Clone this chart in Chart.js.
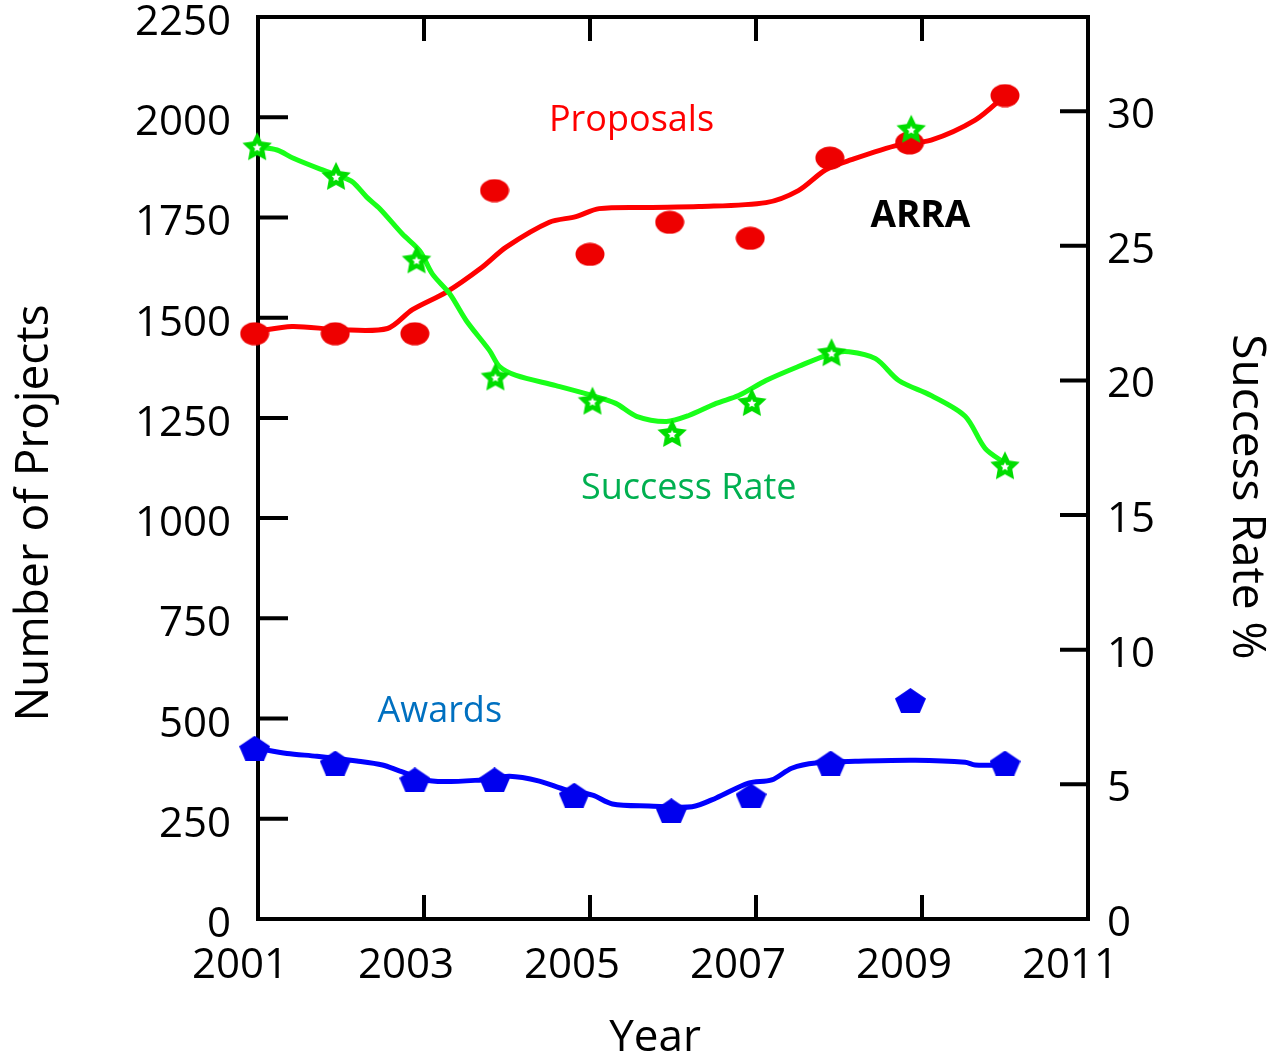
<!DOCTYPE html>
<html>
<head>
<meta charset="utf-8">
<script src="https://cdn.jsdelivr.net/npm/chart.js@4.4.1/dist/chart.umd.min.js"></script>
<style>
html,body{margin:0;padding:0;background:#fff;}
#wrap{width:1272px;height:1062px;position:relative;}
</style>
</head>
<body>
<div id="wrap"><canvas id="c" width="1272" height="1062"></canvas></div>
<script>
// ---- data ----
const xTickValues = [2001, 2003, 2005, 2007, 2009, 2011];
const leftTickValues = [0, 250, 500, 750, 1000, 1250, 1500, 1750, 2000, 2250];
const rightTickValues = [0, 5, 10, 15, 20, 25, 30];

const proposalYears = [2000.96, 2001.93, 2002.89, 2003.85, 2005.0, 2005.96, 2006.93, 2007.89, 2008.85, 2010.0];
const proposals     = [1460, 1460, 1460, 1817, 1658, 1738, 1698, 1898, 1936, 2054];

const proposalTrendYears = [2000.96, 2001.41, 2001.99, 2002.56, 2002.86, 2003.27, 2003.70, 2003.99, 2004.51, 2004.83, 2005.11, 2005.71, 2006.31, 2007.12, 2007.51, 2007.84, 2008.15, 2008.72, 2009.11, 2009.64, 2010.0];
const proposalTrend      = [1465, 1478, 1470, 1473, 1520, 1564, 1626, 1676, 1738, 1752, 1772, 1775, 1777, 1787, 1817, 1869, 1894, 1931, 1943, 1993, 2054];

const successYears = [2000.99, 2001.94, 2002.91, 2003.86, 2005.03, 2005.99, 2006.95, 2007.91, 2008.87, 2010.0];
const successRate  = [28.7, 27.6, 24.5, 20.15, 19.25, 18.05, 19.2, 21.05, 29.35, 16.85];

const successTrendYears = [2000.99, 2001.23, 2001.42, 2001.75, 2001.99, 2002.14, 2002.31, 2002.47, 2002.74, 2002.95, 2003.10, 2003.31, 2003.51, 2003.79, 2003.91, 2004.11, 2004.59, 2005.03, 2005.31, 2005.56, 2005.92, 2006.19, 2006.52, 2006.79, 2007.12, 2007.51, 2007.91, 2008.12, 2008.44, 2008.72, 2009.11, 2009.52, 2009.76, 2010.0];
const successTrend      = [28.67, 28.56, 28.26, 27.85, 27.59, 27.37, 26.81, 26.37, 25.44, 24.81, 23.96, 23.22, 22.22, 21.11, 20.52, 20.19, 19.81, 19.44, 19.15, 18.67, 18.48, 18.70, 19.15, 19.44, 20.0, 20.52, 21.0, 21.07, 20.81, 20.0, 19.44, 18.67, 17.48, 16.93];

const awardYears = [2000.96, 2001.93, 2002.89, 2003.85, 2004.81, 2005.98, 2006.94, 2007.9, 2008.86, 2010.0];
const awards     = [426, 389, 347, 347, 309, 270, 307, 389, 545, 389];

const awardTrendYears = [2000.99, 2001.35, 2001.71, 2002.19, 2002.50, 2002.71, 2003.10, 2003.70, 2004.03, 2004.39, 2004.71, 2005.03, 2005.27, 2005.71, 2006.23, 2006.52, 2006.91, 2007.19, 2007.43, 2007.72, 2008.32, 2008.92, 2009.52, 2009.64, 2009.92, 2010.0];
const awardTrend      = [426, 413, 406, 394, 384, 369, 344, 347, 356, 344, 322, 309, 287, 282, 280, 302, 339, 347, 376, 389, 394, 396, 391, 384, 384, 386];

const pts = (xs, ys) => xs.map((x, i) => ({x: x, y: ys[i]}));

// ---- marker images ----
function ellipseImg(w, h, color) {
  const c = document.createElement('canvas'); c.width = w; c.height = h;
  const g = c.getContext('2d'); g.fillStyle = color;
  g.beginPath(); g.ellipse(w/2, h/2, w/2 - 0.5, h/2 - 0.5, 0, 0, Math.PI*2); g.fill();
  return c;
}
function starPath(g, cx, cy, ro, ri) {
  g.beginPath();
  for (let i = 0; i < 10; i++) {
    const r = i % 2 === 0 ? ro : ri;
    const a = -Math.PI/2 + i * Math.PI/5;
    const px = cx + r*Math.cos(a), py = cy + r*Math.sin(a);
    if (i === 0) g.moveTo(px, py); else g.lineTo(px, py);
  }
  g.closePath();
}
function starImg(size, color) {
  const c = document.createElement('canvas'); c.width = size; c.height = size;
  const g = c.getContext('2d');
  g.fillStyle = color; starPath(g, size/2, size/2 + 1.5, size/2 - 0.5, size/4.2); g.fill();
  g.fillStyle = '#ffffff'; starPath(g, size/2, size/2 + 1.5, size/7, size/14); g.fill();
  return c;
}
function pentImg(w, h, color) {
  const c = document.createElement('canvas'); c.width = w; c.height = h;
  const g = c.getContext('2d'); g.fillStyle = color;
  g.beginPath();
  g.moveTo(w/2, 0); g.lineTo(w, h*0.42); g.lineTo(w*0.8, h); g.lineTo(w*0.2, h); g.lineTo(0, h*0.42);
  g.closePath(); g.fill();
  return c;
}
const redDot = ellipseImg(30, 24, '#EE0000');
const greenStar = starImg(32, '#00DD00');
const bluePent = pentImg(31, 25, '#0000EE');

// ---- frame & inward tick marks ----
const framePlugin = {
  id: 'frame',
  beforeDatasetsDraw(chart) {
    const {ctx, chartArea: a, scales} = chart;
    ctx.save();
    ctx.strokeStyle = '#000'; ctx.lineWidth = 4; ctx.lineCap = 'square';
    ctx.strokeRect(a.left, a.top, a.right - a.left, a.bottom - a.top);
    ctx.lineCap = 'butt';
    ctx.beginPath();
    leftTickValues.forEach(v => {
      if (v <= 0 || v >= 2250) return;
      const y = scales.y.getPixelForValue(v);
      ctx.moveTo(a.left, y); ctx.lineTo(a.left + 30, y);
    });
    rightTickValues.forEach(v => {
      if (v <= 0) return;
      const y = scales.y2.getPixelForValue(v);
      ctx.moveTo(a.right, y); ctx.lineTo(a.right - 28, y);
    });
    xTickValues.forEach(v => {
      if (v <= 2001 || v >= 2011) return;
      const x = scales.x.getPixelForValue(v);
      ctx.moveTo(x, a.bottom); ctx.lineTo(x, a.bottom - 24);
      ctx.moveTo(x, a.top); ctx.lineTo(x, a.top + 24);
    });
    ctx.stroke();
    ctx.restore();
  },
  afterDraw(chart) {
    const {ctx, scales} = chart;
    ctx.save();
    ctx.textAlign = 'center'; ctx.textBaseline = 'middle';
    const txt = (s, x, y, font, color, rot) => {
      ctx.save(); ctx.translate(x, y); if (rot) ctx.rotate(rot);
      ctx.font = font; ctx.fillStyle = color; ctx.fillText(s, 0, 0); ctx.restore();
    };
    // axis titles
    txt('Number of Projects', 35, 513, '46px "Open Sans"', '#000', -Math.PI/2);
    txt('Success Rate %', 1246, 497, '46px "Open Sans"', '#000', Math.PI/2);
    txt('Year', 655, 1038, '44px "Open Sans"', '#000', 0);
    // series annotations, placed with the scales
    const X = v => scales.x.getPixelForValue(v), Y = v => scales.y.getPixelForValue(v);
    txt('Proposals', X(2005.5), Y(1990), '36px "Open Sans"', '#FF0000', 0);
    txt('ARRA', X(2008.98), Y(1752), 'bold 37px "Open Sans"', '#000', 0);
    txt('Success Rate', X(2006.19), Y(1072), '36px "Open Sans"', '#00B050', 0);
    txt('Awards', X(2003.19), Y(516), '36px "Open Sans"', '#0070C0', 0);
    ctx.restore();
  }
};

const tickFont = {family: 'Open Sans', size: 42};
const setTicks = vals => scale => { scale.ticks = vals.map(v => ({value: v})); };

new Chart(document.getElementById('c'), {
  type: 'scatter',
  data: {
    datasets: [
      {label: 'Success Rate', data: pts(successYears, successRate), yAxisID: 'y2', showLine: false,
       pointStyle: greenStar, pointRadius: 16, clip: false},
      {label: 'Proposals', data: pts(proposalYears, proposals), yAxisID: 'y', showLine: false,
       pointStyle: redDot, pointRadius: 15, clip: false},
      {label: 'Awards', data: pts(awardYears, awards), yAxisID: 'y', showLine: false,
       pointStyle: bluePent, pointRadius: 15, clip: false},
      {label: 'Success trend', data: pts(successTrendYears, successTrend), yAxisID: 'y2', showLine: true,
       borderColor: '#19FF19', borderWidth: 5, pointRadius: 0, tension: 0.3, clip: false},
      {label: 'Proposals trend', data: pts(proposalTrendYears, proposalTrend), yAxisID: 'y', showLine: true,
       borderColor: '#FF0000', borderWidth: 5, pointRadius: 0, tension: 0.3, clip: false},
      {label: 'Awards trend', data: pts(awardTrendYears, awardTrend), yAxisID: 'y', showLine: true,
       borderColor: '#0000FF', borderWidth: 5, pointRadius: 0, tension: 0.3, clip: false}
    ]
  },
  options: {
    responsive: false,
    animation: false,
    layout: {padding: {top: 13, left: 0, right: 0, bottom: 0}},
    plugins: {legend: {display: false}, tooltip: {enabled: false}},
    scales: {
      x: {
        type: 'linear', position: 'bottom', min: 2001, max: 2011,
        afterBuildTicks: setTicks(xTickValues),
        afterFit: s => { s.height = 143; s.paddingLeft = 0; s.paddingRight = 0; },
        grid: {display: false, drawTicks: false},
        border: {display: false},
        ticks: {font: tickFont, color: '#000', padding: 22, labelOffset: -18, maxRotation: 0, autoSkip: false,
                callback: v => String(v)}
      },
      y: {
        type: 'linear', position: 'left', min: 0, max: 2250,
        afterBuildTicks: setTicks(leftTickValues),
        afterFit: s => { s.width = 258; s.paddingTop = 0; s.paddingBottom = 0; },
        grid: {display: false, drawTicks: false},
        border: {display: false},
        ticks: {font: tickFont, color: '#000', padding: 27, labelOffset: 6, autoSkip: false, callback: v => String(v)}
      },
      y2: {
        type: 'linear', position: 'right', min: 0, max: 33.5,
        afterBuildTicks: setTicks(rightTickValues),
        afterFit: s => { s.width = 184; s.paddingTop = 0; s.paddingBottom = 0; },
        grid: {display: false, drawTicks: false},
        border: {display: false},
        ticks: {font: tickFont, color: '#000', padding: 19, labelOffset: 5, autoSkip: false, callback: v => String(v)}
      }
    }
  },
  plugins: [framePlugin]
});
</script>
</body>
</html>
